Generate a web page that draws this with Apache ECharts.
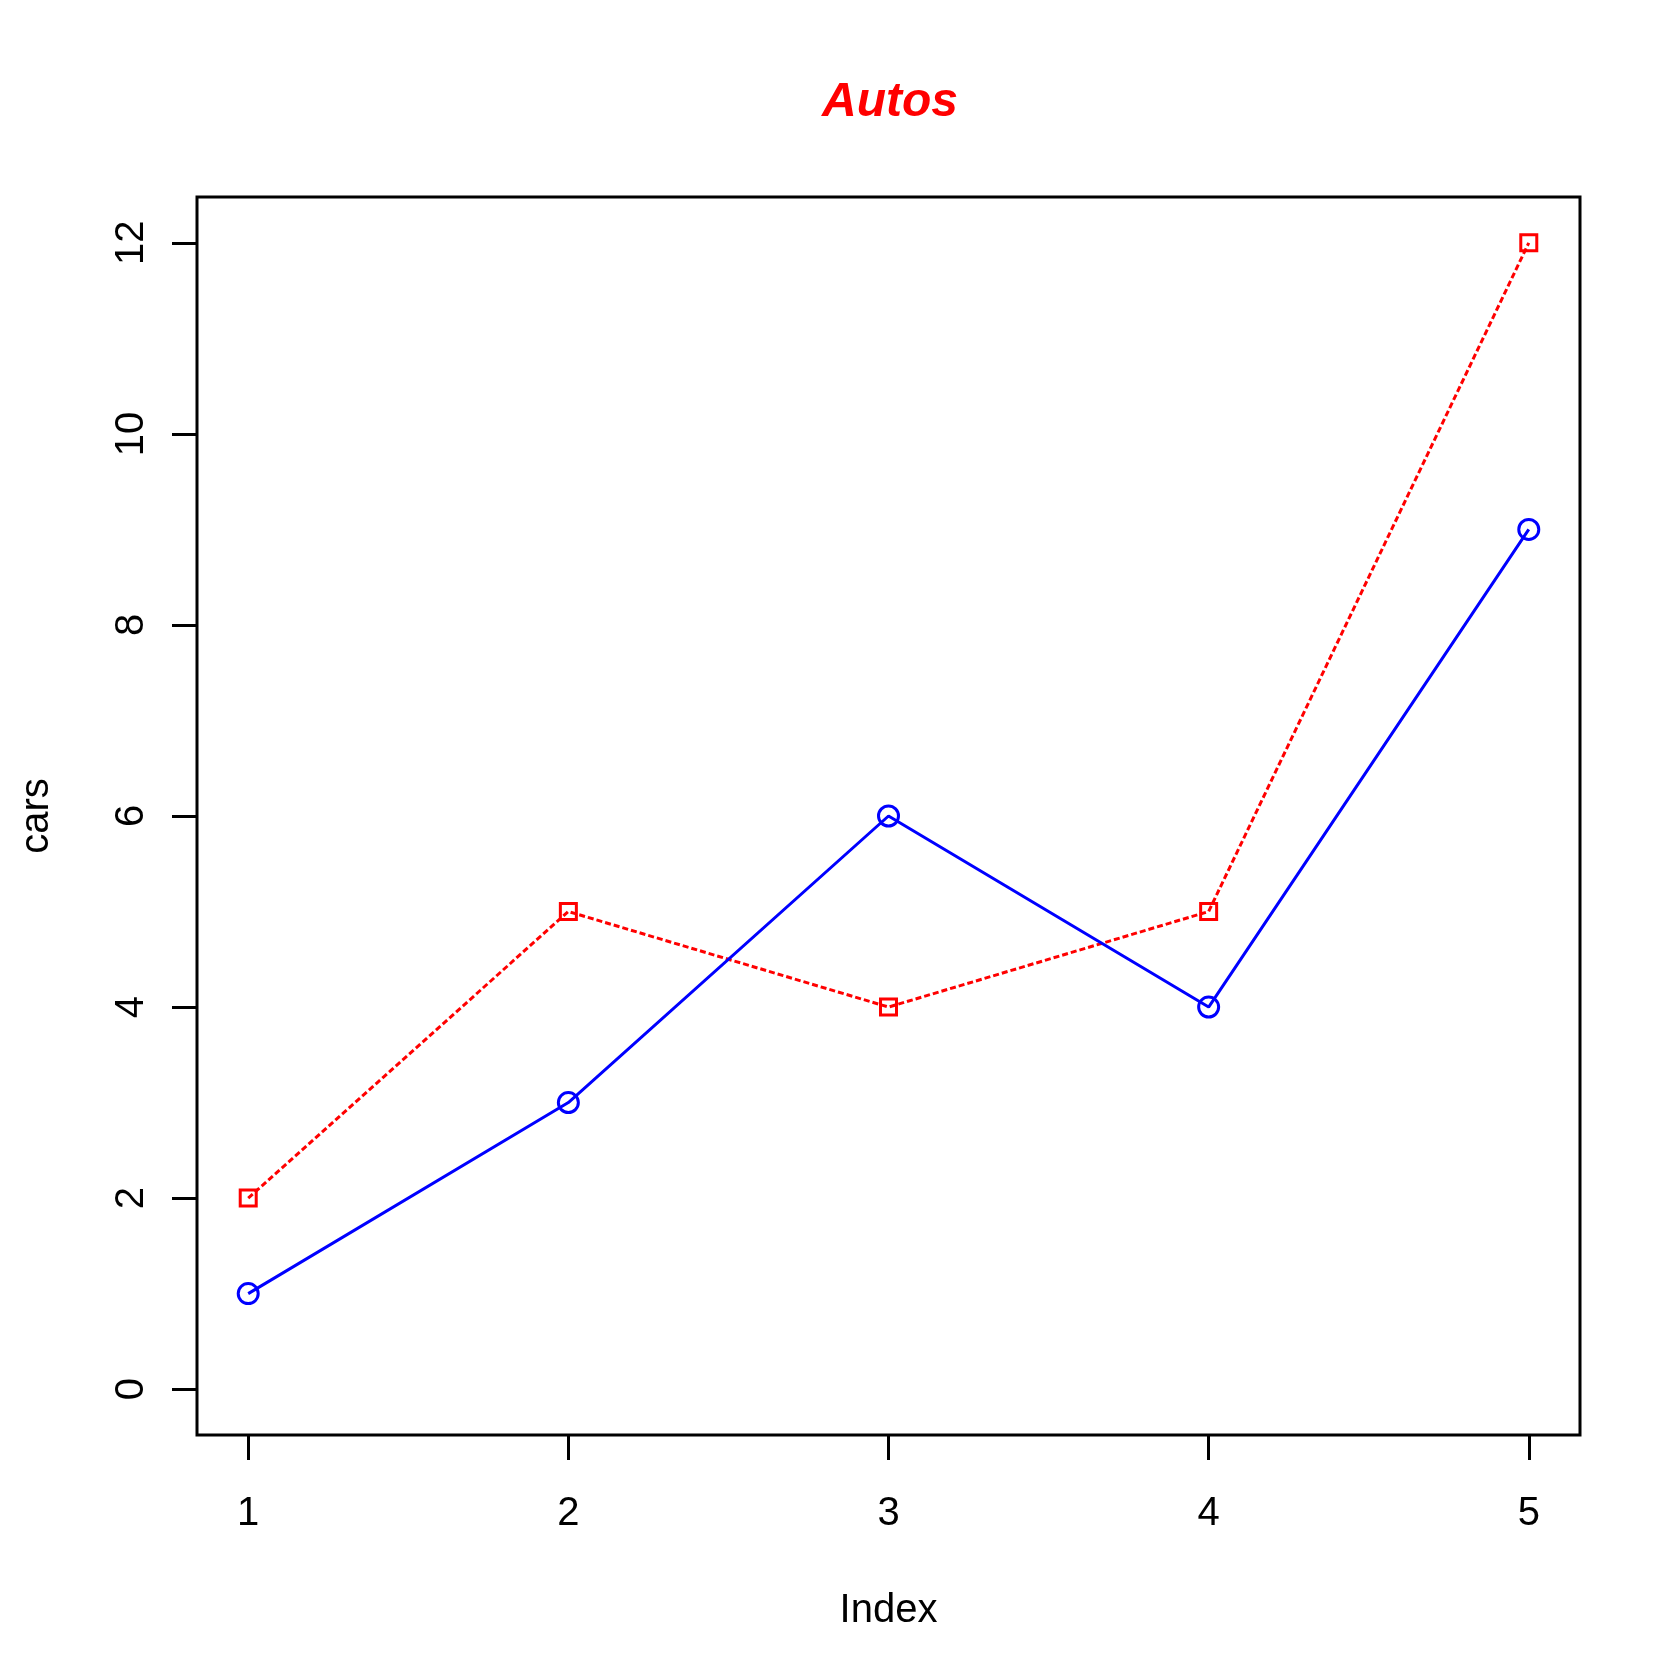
<!DOCTYPE html>
<html>
<head>
<meta charset="utf-8">
<script src="https://cdn.jsdelivr.net/npm/echarts@6/dist/echarts.min.js"></script>
<style>
html,body{margin:0;padding:0;background:#fff;}
#c{width:1680px;height:1680px;}
</style>
</head>
<body>
<div id="c"></div>
<script>
const indexValues = [1, 2, 3, 4, 5];
const carsBlue = [1, 3, 6, 4, 9];
const carsRed = [2, 5, 4, 5, 12];
const xTicks = [1, 2, 3, 4, 5];
const yTicks = [0, 2, 4, 6, 8, 10, 12];
const titleText = 'Autos';
const xName = 'Index';
const yName = 'cars';

const font = '"Liberation Sans", Arial, Helvetica, sans-serif';
const chart = echarts.init(document.getElementById('c'), null, {renderer: 'canvas'});
chart.setOption({
  backgroundColor: '#fff',
  animation: false,
  title: {
    text: titleText,
    left: 885,
    textAlign: 'center',
    top: 74,
    textStyle: {color: '#ff0000', fontFamily: font, fontSize: 48, fontWeight: 'bold', fontStyle: 'italic'}
  },
  grid: {
    left: 197, top: 197, right: 100, bottom: 245,
    show: true, borderColor: '#000', borderWidth: 3, backgroundColor: 'transparent'
  },
  xAxis: {
    type: 'value', min: 0.84, max: 5.16,
    name: xName, nameLocation: 'middle', nameGap: 156,
    nameTextStyle: {fontFamily: font, fontSize: 40, color: '#000'},
    axisLine: {show: false, onZero: false},
    splitLine: {show: false},
    axisTick: {show: true, customValues: xTicks, length: 25, inside: false, lineStyle: {color: '#000', width: 3}},
    axisLabel: {customValues: xTicks, margin: 59, fontFamily: font, fontSize: 40, color: '#000'}
  },
  yAxis: {
    type: 'value', min: -0.48, max: 12.48,
    name: yName, nameLocation: 'middle', nameGap: 140, nameRotate: 90,
    nameTextStyle: {fontFamily: font, fontSize: 40, color: '#000'},
    axisLine: {show: false, onZero: false},
    splitLine: {show: false},
    axisTick: {show: true, customValues: yTicks, length: 25, inside: false, lineStyle: {color: '#000', width: 3}},
    axisLabel: {customValues: yTicks, rotate: 90, margin: 45, fontFamily: font, fontSize: 40, color: '#000'}
  },
  series: [
    {
      type: 'line',
      data: indexValues.map((x, i) => [x, carsRed[i]]),
      symbol: 'rect', symbolSize: 16,
      lineStyle: {color: '#ff0000', width: 3, type: [6, 3]},
      itemStyle: {color: 'transparent', borderColor: '#ff0000', borderWidth: 3}
    },
    {
      type: 'line',
      data: indexValues.map((x, i) => [x, carsBlue[i]]),
      symbol: 'circle', symbolSize: 20,
      lineStyle: {color: '#0000ff', width: 3},
      itemStyle: {color: 'transparent', borderColor: '#0000ff', borderWidth: 3}
    }
  ]
});
</script>
</body>
</html>
